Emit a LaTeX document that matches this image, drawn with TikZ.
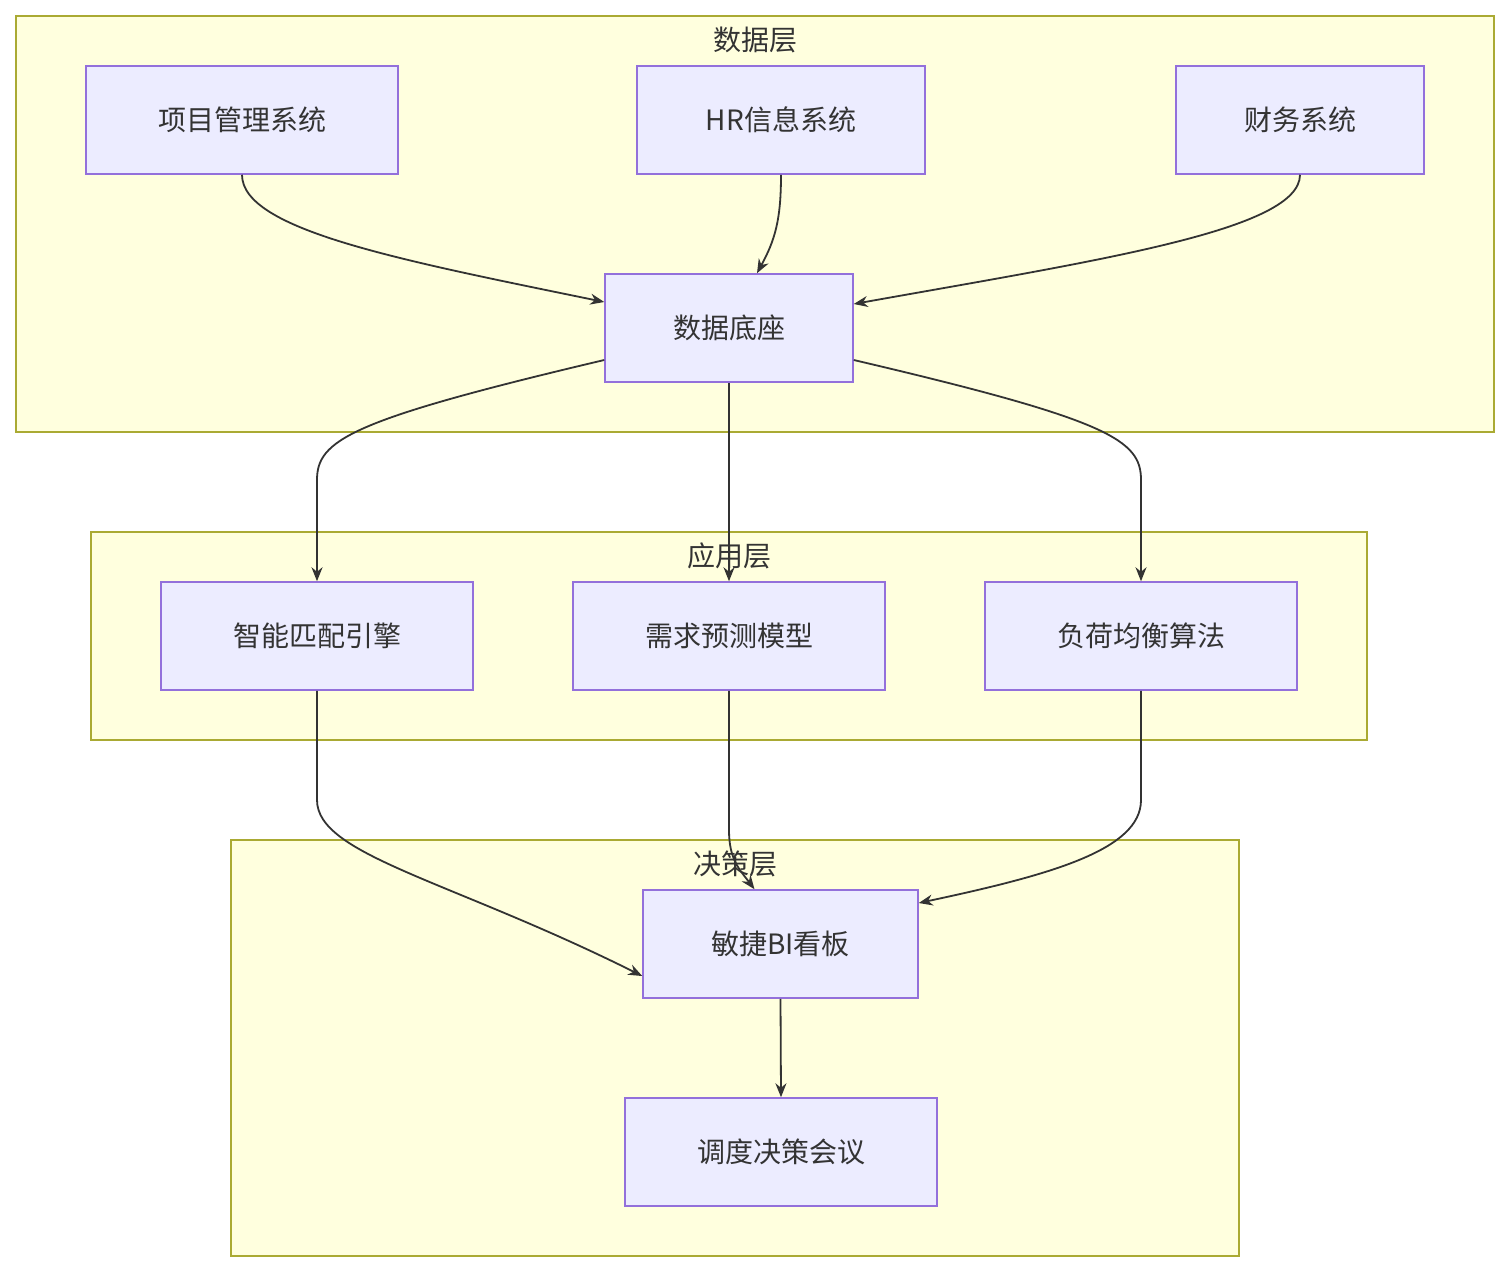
\documentclass[tikz,border=0pt]{standalone}
\usepackage{fontspec}
\setmainfont{Noto Sans CJK SC}
\usetikzlibrary{arrows.meta}
\definecolor{cf}{HTML}{FFFFDE}\definecolor{cs}{HTML}{AAAA33}
\definecolor{nf}{HTML}{ECECFF}\definecolor{ns}{HTML}{9370DB}
\definecolor{tx}{HTML}{333333}
\begin{document}
\begin{tikzpicture}[x=1pt,y=-1pt,
 clus/.style={draw=cs,fill=cf,line width=1.5pt},
 ttl/.style={text=tx,font=\fontsize{28}{32}\selectfont},
 box/.style={draw=ns,fill=nf,line width=1.5pt,text=tx,font=\fontsize{28}{32}\selectfont,inner sep=0pt,minimum height=108pt},
 e/.style={draw=tx,line width=1.8pt,-{Stealth[length=14pt,width=11pt]}}]
\useasboundingbox[fill=white] (0,0) rectangle (1509,1272);
\draw[clus] (16,16) rectangle (1494,432);
\draw[clus] (91,532) rectangle (1367,740);
\draw[clus] (231,840) rectangle (1239,1256);
\node[ttl] (t1) at (755,40) {数据层};
\node[ttl] (t2) at (729,556) {应用层};
\node[ttl] (t3) at (735,864) {决策层};
\node[box,minimum width=312pt] (pm) at (242,120) {项目管理系统};
\node[box,minimum width=288pt] (hr) at (781,120) {HR信息系统};
\node[box,minimum width=248pt] (fi) at (1300,120) {财务系统};
\node[box,minimum width=248pt] (db) at (729,328) {数据底座};
\node[box,minimum width=312pt] (im) at (317,636) {智能匹配引擎};
\node[box,minimum width=312pt] (dm) at (729,636) {需求预测模型};
\node[box,minimum width=312pt] (lb) at (1141,636) {负荷均衡算法};
\node[box,minimum width=275pt] (bi) at (780.5,944) {敏捷BI看板};
\node[box,minimum width=312pt] (mt) at (781,1152) {调度决策会议};
\draw[e] (pm.south) .. controls (242,230) and (400,260) .. ([yshift=26pt]db.west);
\draw[e] (hr.south) .. controls (781,220) and (775,240) .. ([xshift=28pt]db.north);
\draw[e] (fi.south) .. controls (1300,230) and (1100,260) .. ([yshift=24pt]db.east);
\draw[e] ([yshift=-32pt]db.west) .. controls (350,420) and (317,440) .. (317,480) -- (im.north);
\draw[e] (db.south) -- (dm.north);
\draw[e] ([yshift=-32pt]db.east) .. controls (1110,420) and (1141,440) .. (1141,480) -- (lb.north);
\draw[e] (im.south) -- (317,800) .. controls (317,855) and (450,880) .. ([yshift=-32pt]bi.west);
\draw[e] (dm.south) -- (729,830) .. controls (729,860) and (740,870) .. ([xshift=-26pt]bi.north);
\draw[e] (lb.south) -- (1141,800) .. controls (1141,850) and (1050,875) .. ([yshift=41pt]bi.east);
\draw[e] (bi.south) -- (mt.north);
\end{tikzpicture}
\end{document}
